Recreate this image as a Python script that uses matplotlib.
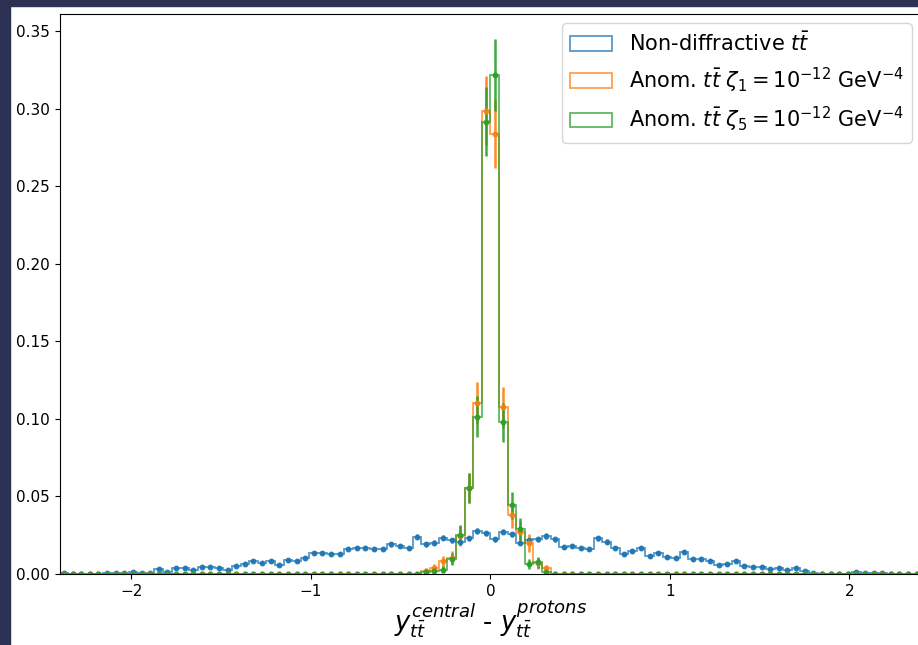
import numpy as np
import matplotlib
matplotlib.use("Agg")
import matplotlib.pyplot as plt
from matplotlib.patches import Rectangle

# Binning of the rapidity difference
x_min, x_max, n_bins = -2.4, 2.4, 100
edges = np.linspace(x_min, x_max, n_bins + 1)
centers = 0.5 * (edges[:-1] + edges[1:])

# Normalised bin contents (fraction of events per bin)
nondiff = [
    0.0009, 0.0, 0.0, 0.0, 0.0, 0.0008, 0.0008, 0.0008, 0.0015, 0.0005,
    0.0004, 0.0030, 0.0015, 0.0038, 0.0037, 0.0023, 0.0045, 0.0043, 0.0036, 0.0028,
    0.0050, 0.0062, 0.0085, 0.0071, 0.0082, 0.0058, 0.0089, 0.0082, 0.0105, 0.0133,
    0.0133, 0.0127, 0.0127, 0.0159, 0.0170, 0.0170, 0.0159, 0.0159, 0.0191, 0.0181,
    0.0170, 0.0241, 0.0191, 0.0202, 0.0234, 0.0217, 0.0209, 0.0230, 0.0277, 0.0262,
    0.0224, 0.0273, 0.0256, 0.0202, 0.0219, 0.0224, 0.0245, 0.0224, 0.0176, 0.0181,
    0.0170, 0.0159, 0.0230, 0.0209, 0.0170, 0.0127, 0.0148, 0.0170, 0.0116, 0.0138,
    0.0108, 0.0105, 0.0144, 0.0095, 0.0097, 0.0084, 0.0058, 0.0062, 0.0084, 0.0054,
    0.0043, 0.0043, 0.0030, 0.0037, 0.0026, 0.0037, 0.0022, 0.0009, 0.0003, 0.0003,
    0.0003, 0.0003, 0.0015, 0.0004, 0.0004, 0.0004, 0.0, 0.0, 0.0, 0.0,
]

# Anomalous couplings: only the central bins are populated
anom_first_bin = 42
anom_zeta1_core = [
    0.0021, 0.0040, 0.0082, 0.0105, 0.0245, 0.0557, 0.1101, 0.2987,
    0.2837, 0.1075, 0.0378, 0.0272, 0.0202, 0.0068, 0.0036,
]
anom_zeta5_core = [
    0.0014, 0.0021, 0.0028, 0.0095, 0.0252, 0.0553, 0.1015, 0.2918,
    0.3217, 0.0978, 0.0443, 0.0289, 0.0063, 0.0076, 0.0015,
]

# Number of generated events behind each sample (for Poisson uncertainties)
n_events_nondiff = 9000
n_events_anom = 600


def full_range(core, first):
    vals = np.zeros(n_bins)
    vals[first:first + len(core)] = core
    return vals


samples = [
    (np.array(nondiff), n_events_nondiff, "tab:blue", r"Non-diffractive $t\bar{t}$"),
    (full_range(anom_zeta1_core, anom_first_bin), n_events_anom, "tab:orange",
     r"Anom. $t\bar{t}$ $\zeta_1 = 10^{-12}$ GeV$^{-4}$"),
    (full_range(anom_zeta5_core, anom_first_bin), n_events_anom, "tab:green",
     r"Anom. $t\bar{t}$ $\zeta_5 = 10^{-12}$ GeV$^{-4}$"),
]

fig = plt.figure(figsize=(9.18, 6.45), dpi=100)
W, H = 918, 645

# dark frame around the canvas
fig.patches.append(Rectangle((0, 1 - 6 / H), 1, 6 / H, transform=fig.transFigure,
                             color="#2d3254", zorder=0))
fig.patches.append(Rectangle((0, 0), 10 / W, 1, transform=fig.transFigure,
                             color="#2d3254", zorder=0))

ax = fig.add_axes([59.7 / W, 71 / H, (921 - 59.7) / W, (574 - 14) / H])

for vals, n_ev, color, label in samples:
    err = np.sqrt(vals / n_ev)
    ax.hist(centers, bins=edges, weights=vals, histtype="step", color=color,
            alpha=0.75, linewidth=1.3, label=label)
    ax.errorbar(centers, vals, yerr=err, fmt=".", color=color, markersize=6.5,
                elinewidth=1.8, ecolor=color, alpha=0.9)

ax.set_xlim(x_min, x_max)
ax.set_ylim(0, 0.3612)
ax.set_yticks(np.arange(0, 0.351, 0.05))
ax.tick_params(labelsize=11)
ax.set_xlabel(r"$y_{t\bar{t}}^{central}$ - $y_{t\bar{t}}^{protons}$", fontsize=18.5,
              labelpad=0)
ax.legend(loc="upper right", fontsize=15, handlelength=2.0,
          borderaxespad=0.45)

fig.savefig("out.png", dpi=100)
